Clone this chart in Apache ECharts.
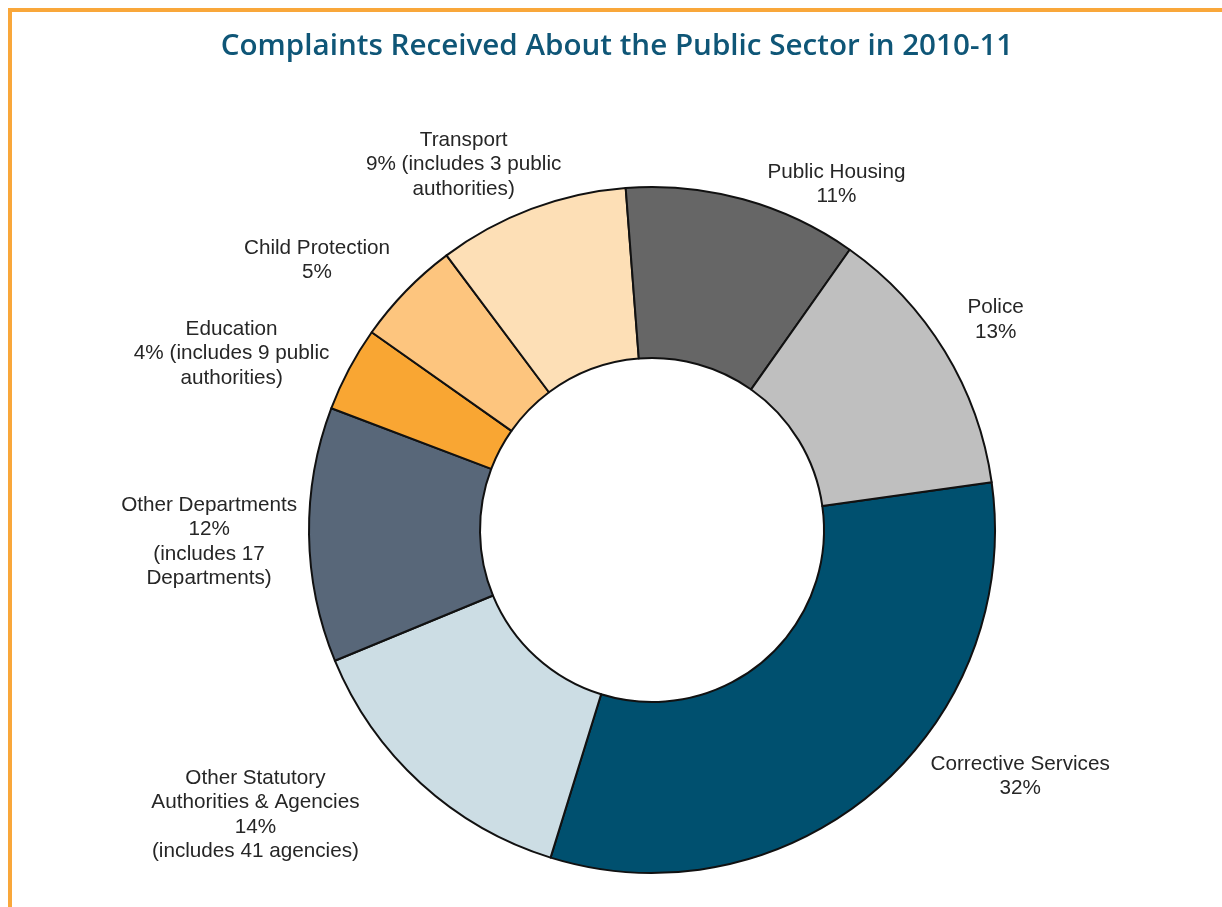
<!DOCTYPE html>
<html>
<head>
<meta charset="utf-8">
<title>Complaints Received About the Public Sector in 2010-11</title>
<script src="https://cdn.jsdelivr.net/npm/echarts@6/dist/echarts.min.js"></script>
<style>
  html, body { margin: 0; padding: 0; background: #ffffff; }
  #wrap { position: relative; width: 1222px; height: 907px; overflow: hidden; }
  #frame {
    position: absolute; left: 8px; top: 8px; right: -10px; bottom: -10px;
    border-top: 4px solid #f9a73a; border-left: 4px solid #f9a73a;
    pointer-events: none;
  }
  #chart { position: absolute; left: 0; top: 0; width: 1222px; height: 907px; }
</style>
</head>
<body>
<div id="wrap">
  <div id="chart"></div>
  <div id="frame"></div>
</div>
<script>
// Share of complaints by sector, clockwise from the right-hand side
const categories = [
  'Corrective Services',
  'Other Statutory Authorities & Agencies',
  'Other Departments',
  'Education',
  'Child Protection',
  'Transport',
  'Public Housing',
  'Police'
];
const shares = [32, 14, 12, 4, 5, 9, 11, 13];

// Label wording (first lines and notes after the percentage)
const labelHeads = [
  'Corrective Services',
  'Other Statutory\nAuthorities & Agencies',
  'Other Departments',
  'Education',
  'Child Protection',
  'Transport',
  'Public Housing',
  'Police'
];
const labelNotes = [
  '',
  '\n(includes 41 agencies)',
  '\n(includes 17\nDepartments)',
  ' (includes 9 public\nauthorities)',
  '',
  ' (includes 3 public\nauthorities)',
  '',
  ''
];

// Slice colours
const sliceColors = [
  '#00506f', '#ccdde4', '#586779', '#f9a633',
  '#fdc57e', '#fddfb6', '#666666', '#bfbfbf'
];

// Layout: ring geometry and label offsets from their default outside anchor
const CX = 652, CY = 530, R_IN = 172, R_OUT = 343, START = 8, GAP = 15;
const labelNudge = [
  [78, -45], [-85, -16], [3, 6], [-18, 9],
  [-26, -3], [-28, 4], [71, 23], [14, -11]
];

const total = shares.reduce((a, b) => a + b, 0);
const midAngles = [];
let cum = 0;
shares.forEach(v => {
  midAngles.push(START - (cum + v / 2) / total * 360);
  cum += v;
});

const chart = echarts.init(document.getElementById('chart'), null, { renderer: 'canvas' });

chart.setOption({
  animation: false,
  backgroundColor: '#ffffff',
  title: {
    text: 'Complaints Received About the Public Sector in 2010-11',
    left: 612,
    top: 27,
    textAlign: 'center',
    textStyle: {
      fontFamily: 'Open Sans',
      fontWeight: 600,
      fontSize: 29.6,
      color: '#0f5677'
    }
  },
  series: [{
    type: 'pie',
    center: [CX, CY],
    radius: [R_IN, R_OUT],
    startAngle: START,
    clockwise: true,
    avoidLabelOverlap: false,
    itemStyle: { borderColor: '#111111', borderWidth: 2 },
    label: {
      show: true,
      position: 'outside',
      fontFamily: 'Liberation Sans, Arial, sans-serif',
      fontSize: 20.7,
      lineHeight: 24.5,
      color: '#262626',
      align: 'center',
      formatter: p => labelHeads[p.dataIndex] + '\n' + p.value + '%' + labelNotes[p.dataIndex]
    },
    labelLine: { show: false },
    labelLayout: params => {
      const i = params.dataIndex;
      const a = midAngles[i] * Math.PI / 180;
      const ux = Math.cos(a), uy = -Math.sin(a);
      const w = params.labelRect.width, h = params.labelRect.height;
      return {
        x: CX + (R_OUT + GAP) * ux + ux * w / 2 + labelNudge[i][0],
        y: CY + (R_OUT + GAP) * uy + uy * h / 2 + labelNudge[i][1],
        align: 'center',
        verticalAlign: 'middle'
      };
    },
    emphasis: { disabled: true },
    data: categories.map((name, i) => ({
      name: name,
      value: shares[i],
      itemStyle: { color: sliceColors[i] }
    }))
  }]
});
</script>
</body>
</html>
